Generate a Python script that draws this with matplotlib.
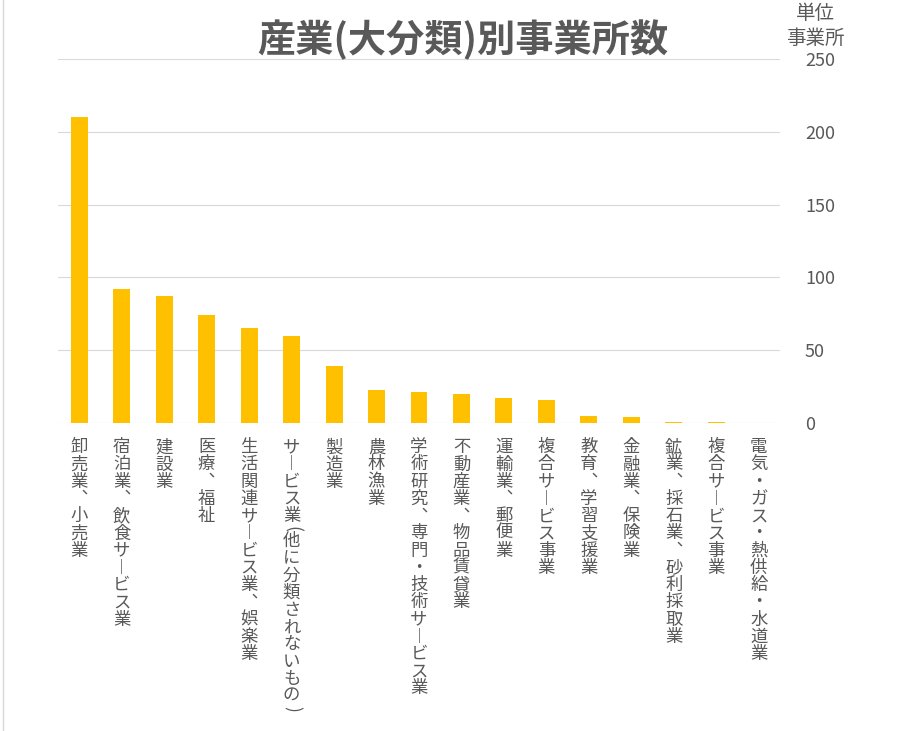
import matplotlib
matplotlib.use("Agg")
import matplotlib.pyplot as plt
from matplotlib.lines import Line2D

plt.rcParams['font.family'] = ['Noto Sans CJK JP', 'DejaVu Sans']

# データ
categories = ["卸売業、小売業", "宿泊業、飲食サービス業", "建設業", "医療、福祉",
              "生活関連サービス業、娯楽業", "サービス業(他に分類されないもの)", "製造業",
              "農林漁業", "学術研究、専門・技術サービス業", "不動産業、物品賃貸業",
              "運輸業、郵便業", "複合サービス事業", "教育、学習支援業", "金融業、保険業",
              "鉱業、採石業、砂利採取業", "複合サービス事業", "電気・ガス・熱供給・水道業"]
counts = [210, 92, 87, 74, 65, 60, 39, 23, 21, 20, 17, 16, 5, 4, 1, 1, 0]
yticks = [0, 50, 100, 150, 200, 250]

# 縦書き用の置き換え
vmap = {"、": "\ufe11", "ー": "\ufe31"}
rotated = {"(", ")"}  # 括弧は90度回転

W, H = 908, 731
fig = plt.figure(figsize=(W / 100, H / 100), dpi=100)
ax = fig.add_axes([58 / W, 1 - 423 / H, (780 - 58) / W, (423 - 59) / H])

x = list(range(len(categories)))
ax.bar(x, counts, width=0.4, color='#FFC000', zorder=3)

ax.set_xlim(-0.5, len(categories) - 0.5)
ax.set_ylim(0, 250)
ax.set_yticks(yticks)
ax.yaxis.tick_right()
ax.tick_params(axis='y', length=0, pad=18, labelsize=13, labelcolor='#595959')
for lab in ax.get_yticklabels():
    lab.set_horizontalalignment('left')
ax.set_xticks([])
ax.grid(axis='y', color='#d9d9d9', lw=0.8, zorder=0)
for s in ax.spines.values():
    s.set_visible(False)

# 縦書きラベル（1文字ずつ配置）
pitch = 12.4  # pt
for i, c in enumerate(categories):
    off = 11.0
    for ch in c:
        if ch in rotated:
            ax.annotate(ch, xy=(i, 0), xycoords=('data', 'axes fraction'),
                        xytext=(0, -off - 1), textcoords='offset points',
                        ha='center', va='top', rotation=270,
                        fontsize=12.5, color='#595959')
            off += pitch * 0.45
        else:
            ax.annotate(vmap.get(ch, ch), xy=(i, 0), xycoords=('data', 'axes fraction'),
                        xytext=(0, -off), textcoords='offset points',
                        ha='center', va='top', fontsize=12.5, color='#595959')
            off += pitch

fig.text(463 / W, 1 - 40 / H, "産業(大分類)別事業所数", ha='center', va='center',
         fontsize=27.5, fontweight='bold', color='#595959')
fig.text(815 / W, 1 - 26 / H, "単位\n事業所", ha='center', va='center',
         fontsize=14, color='#595959', linespacing=1.2)

fig.add_artist(Line2D([2.5 / W, 2.5 / W], [0, 1], color='#d9d9d9', lw=1))

fig.savefig("out.png", dpi=100)
